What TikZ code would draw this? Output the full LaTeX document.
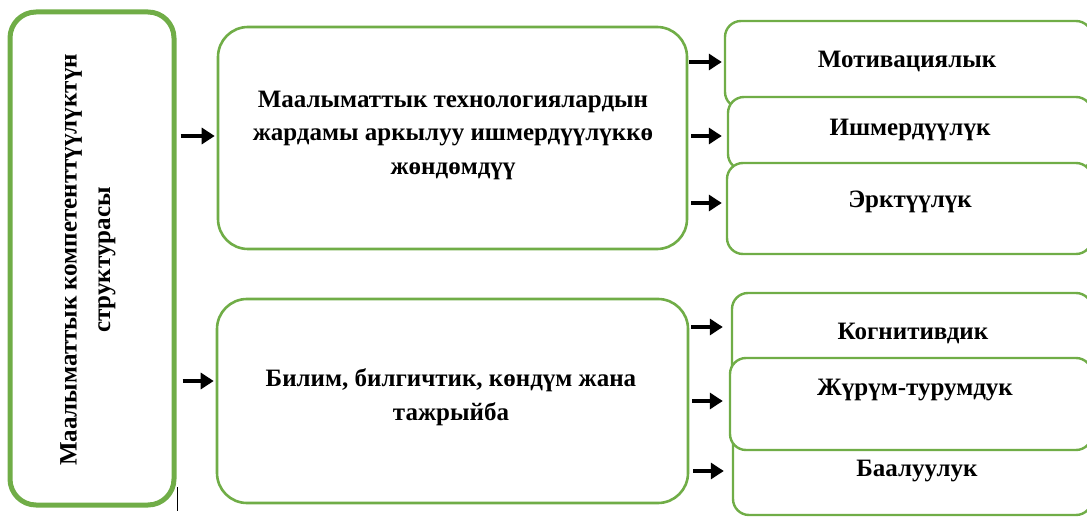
\documentclass[tikz,border=0pt]{standalone}
\usepackage{fontspec}
\setmainfont{Liberation Serif}
\usetikzlibrary{arrows.meta}
\definecolor{boxgreen}{HTML}{70AD47}
\tikzset{
  bigbox/.style={draw=boxgreen, line width=2.6pt, fill=white, rounded corners=30pt, inner sep=0pt},
  leftbox/.style={draw=boxgreen, line width=5pt, fill=white, rounded corners=26pt, inner sep=0pt},
  smallbox/.style={draw=boxgreen, line width=2.4pt, fill=white, rounded corners=16pt, inner sep=0pt},
  txt/.style={font=\fontsize{25}{33.5}\selectfont\bfseries, align=center, inner sep=0pt},
  arr/.style={line width=4.5pt, -{Triangle[length=13pt,width=16pt]}}
}
\begin{document}
\begin{tikzpicture}[x=1pt,y=-1pt]
\useasboundingbox (0,0) rectangle (1087,521);
\clip (0,0) rectangle (1087,521);
% left box
\node[leftbox, minimum width=164pt, minimum height=493pt] (L) at (92,258.5) {};
\node[txt, rotate=90] (Lt) at (88,260) {Маалыматтык компетенттүүлүктүн\\структурасы};
% middle boxes
\node[bigbox, minimum width=469pt, minimum height=222pt] (A) at (452.5,138) {};
\node[txt] (At) at (453,135) {Маалыматтык технологиялардын\\жардамы аркылуу ишмердүүлүккө\\жөндөмдүү};
\node[bigbox, minimum width=471pt, minimum height=204pt] (B) at (452.5,401) {};
\node[txt] (Bt) at (451,397) {Билим, билгичтик, көндүм жана\\тажрыйба};
% right top boxes
\node[smallbox, minimum width=367pt, minimum height=87pt] (M) at (908.5,64.5) {};
\node[smallbox, minimum width=364pt, minimum height=73pt] (I) at (910,133.5) {};
\node[smallbox, minimum width=365pt, minimum height=91pt] (E) at (909.5,208.5) {};
\node[txt] (Mt) at (907,61) {Мотивациялык};
\node[txt] (It) at (910,130) {Ишмердүүлүк};
\node[txt] (Et) at (910,202) {Эрктүүлүк};
% right bottom boxes
\node[smallbox, minimum width=360pt, minimum height=127pt] (K) at (912,356.5) {};
\node[smallbox, minimum width=359pt, minimum height=115pt] (Ba) at (912.5,457.5) {};
\node[smallbox, minimum width=362pt, minimum height=92pt] (Z) at (911,404) {};
\node[txt] (Kt) at (913,333) {Когнитивдик};
\node[txt] (Zt) at (915,390) {Жүрүм-турумдук};
\node[txt] (Bat) at (917,471) {Баалуулук};
% arrows from left box
\draw[arr] ([xshift=4pt]L.east |- 0,136) -- ([xshift=-2pt]A.west |- 0,136);
\draw[arr] ([xshift=6pt]L.east |- 0,381) -- ([xshift=-2pt]B.west |- 0,381);
% arrows to right top boxes
\draw[arr] ([xshift=1pt]A.east |- 0,62) -- ([xshift=-2pt]M.west |- 0,62);
\draw[arr] ([xshift=3pt]A.east |- 0,136) -- ([xshift=-5pt]I.west |- 0,136);
\draw[arr] ([xshift=3pt]A.east |- 0,203) -- ([xshift=-4pt]E.west |- 0,203);
% arrows to right bottom boxes
\draw[arr] ([xshift=2pt]B.east |- 0,327) -- ([xshift=-8pt]K.west |- 0,327);
\draw[arr] ([xshift=3pt]B.east |- 0,401) -- ([xshift=-6pt]Z.west |- 0,401);
\draw[arr] ([xshift=4pt]B.east |- 0,471) -- ([xshift=-8pt]Ba.west |- 0,471);
% text cursor mark
\draw[line width=1pt] (177,487) -- (177,511);
\end{tikzpicture}
\end{document}
